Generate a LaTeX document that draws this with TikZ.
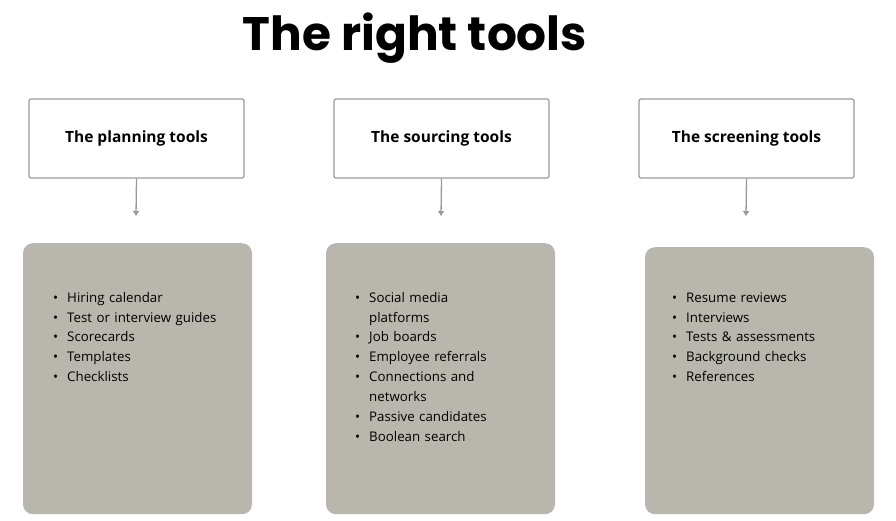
\documentclass[tikz,border=0pt]{standalone}
\usepackage{fontspec}
\setmainfont{Open Sans}
\newfontfamily\titlefont{Poppins}
\usetikzlibrary{arrows.meta}
\definecolor{boxgray}{HTML}{B9B6AD}
\definecolor{edgegray}{HTML}{9A9A9A}
\begin{document}
\begin{tikzpicture}[x=1pt,y=-1pt,
  head/.style={draw=edgegray,line width=1.2pt,fill=white,rounded corners=2pt,minimum width=215pt,minimum height=79pt,font=\bfseries\fontsize{15.5}{18}\selectfont},
  panel/.style={fill=boxgray,rounded corners=10pt,minimum width=229pt,anchor=north},
  arr/.style={draw=edgegray,line width=1.3pt,-{Triangle[length=5pt,width=6pt]}},
  lst/.style={anchor=north west,align=left,text width=190pt,font=\fontsize{13.3}{19.9}\selectfont,inner sep=0pt}]
\useasboundingbox (0,0) rectangle (896,520);
\node[font=\titlefont\bfseries\fontsize{47}{50}\selectfont] (title) at (415,38) {The right tools};
\node[head] (h1) at (136.5,138.5) {The planning tools};
\node[head] (h2) at (441.5,138.5) {The sourcing tools};
\node[head] (h3) at (746.5,138.5) {The screening tools};
\node[panel,minimum height=271pt] (p1) at (137.5,243) {};
\node[panel,minimum height=271pt] (p2) at (440.5,243) {};
\node[panel,minimum height=267pt] (p3) at (759.5,247) {};
\coordinate (a1) at (136,216);
\coordinate (a2) at (441,216);
\coordinate (a3) at (746,216);
\draw[arr] (h1.south) -- (a1);
\draw[arr] (h2.south) -- (a2);
\draw[arr] (h3.south) -- (a3);
\newcommand{\blist}[1]{\begin{itemize}\setlength{\itemsep}{0pt}\setlength{\parskip}{0pt}\setlength{\topsep}{0pt}\setlength{\leftmargin}{19pt}\setlength{\labelsep}{10pt}#1\end{itemize}}
\node[lst] (t1) at (48,282) {\begin{list}{\textbullet}{\setlength{\leftmargin}{19pt}\setlength{\labelsep}{9pt}\setlength{\itemsep}{0pt}\setlength{\parsep}{0pt}\setlength{\topsep}{0pt}}
\item Hiring calendar
\item Test or interview guides
\item Scorecards
\item Templates
\item Checklists\end{list}};
\node[lst] (t2) at (350,282) {\begin{list}{\textbullet}{\setlength{\leftmargin}{19pt}\setlength{\labelsep}{9pt}\setlength{\itemsep}{0pt}\setlength{\parsep}{0pt}\setlength{\topsep}{0pt}}
\item Social media\\platforms
\item Job boards
\item Employee referrals
\item Connections and\\networks
\item Passive candidates
\item Boolean search\end{list}};
\node[lst] (t3) at (667,282) {\begin{list}{\textbullet}{\setlength{\leftmargin}{19pt}\setlength{\labelsep}{9pt}\setlength{\itemsep}{0pt}\setlength{\parsep}{0pt}\setlength{\topsep}{0pt}}
\item Resume reviews
\item Interviews
\item Tests \& assessments
\item Background checks
\item References\end{list}};
\end{tikzpicture}
\end{document}
